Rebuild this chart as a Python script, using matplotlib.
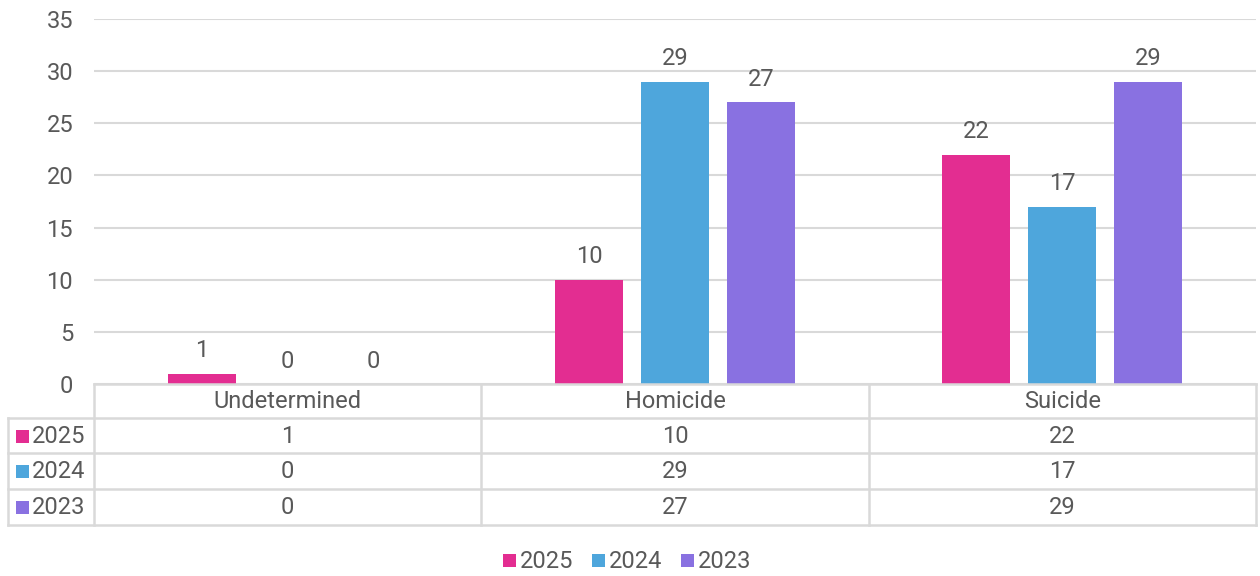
import matplotlib
matplotlib.use("Agg")
import matplotlib.pyplot as plt
import numpy as np

categories = ["Undetermined", "Homicide", "Suicide"]
series_names = ["2025", "2024", "2023"]
v2025 = [1, 10, 22]
v2024 = [0, 29, 17]
v2023 = [0, 27, 29]
yticks = [0, 5, 10, 15, 20, 25, 30, 35]

values = [v2025, v2024, v2023]
colors = ["#E32D91", "#4EA6DC", "#8971E1"]
txt = "#595959"
grid = "#D9D9D9"
plt.rcParams['font.family'] = ['Roboto', 'DejaVu Sans']
FS = 17

W, H = 1260, 576
fig = plt.figure(figsize=(W / 100, H / 100), dpi=100)
L, R, B, T = 94, 1256, 384, 19
ax = fig.add_axes([L / W, 1 - B / H, (R - L) / W, (B - T) / H])
x = np.arange(len(categories))
bw = 0.176
sp = 0.222
for i, (vals, c) in enumerate(zip(values, colors)):
    pos = x + (i - 1) * sp
    ax.bar(pos, vals, width=bw, color=c, zorder=3)
    for p, v in zip(pos, vals):
        ax.text(p, v + 1.1, str(v), ha='center', va='bottom', fontsize=FS, color=txt)
ax.set_xlim(-0.5, len(categories) - 0.5)
ax.set_ylim(0, 35)
ax.set_yticks(yticks)
ax.set_xticks([])
ax.tick_params(axis='y', length=0, labelsize=FS, labelcolor=txt, pad=15)
ax.grid(axis='y', color=grid, linewidth=1.5, zorder=0)
for s in ax.spines.values():
    s.set_visible(False)

# table in pixel coordinates overlay
tab = fig.add_axes([0, 0, 1, 1], facecolor='none')
tab.set_xlim(0, W)
tab.set_ylim(H, 0)
tab.axis('off')
col_x = [L + k * (R - L) / 3 for k in range(4)]
row_y = [384, 418, 453, 489, 525]
lw = 1.8
tab.plot([col_x[0], col_x[-1]], [row_y[0], row_y[0]], color=grid, lw=lw)
for yy in row_y[1:]:
    tab.plot([8, col_x[-1]], [yy, yy], color=grid, lw=lw)
for xx in col_x:
    tab.plot([xx, xx], [row_y[0], row_y[-1]], color=grid, lw=lw)
tab.plot([8, 8], [row_y[1], row_y[-1]], color=grid, lw=lw)
for j, cat in enumerate(categories):
    cx = (col_x[j] + col_x[j + 1]) / 2
    tab.text(cx, (row_y[0] + row_y[1]) / 2 + 1, cat, ha='center', va='center', fontsize=FS, color=txt)
for i, (name, vals, c) in enumerate(zip(series_names, values, colors)):
    cy = (row_y[i + 1] + row_y[i + 2]) / 2 + 1
    tab.add_patch(plt.Rectangle((16, cy - 7), 13, 13, color=c, lw=0))
    tab.text(32, cy, name, ha='left', va='center', fontsize=FS, color=txt)
    for j, v in enumerate(vals):
        cx = (col_x[j] + col_x[j + 1]) / 2
        tab.text(cx, cy, str(v), ha='center', va='center', fontsize=FS, color=txt)

# bottom legend
lx = 503
ly = 561
for name, c in zip(series_names, colors):
    tab.add_patch(plt.Rectangle((lx, ly - 7), 13, 13, color=c, lw=0))
    tab.text(lx + 17, ly, name, ha='left', va='center', fontsize=FS, color=txt)
    lx += 89

fig.savefig("out.png", dpi=100)
